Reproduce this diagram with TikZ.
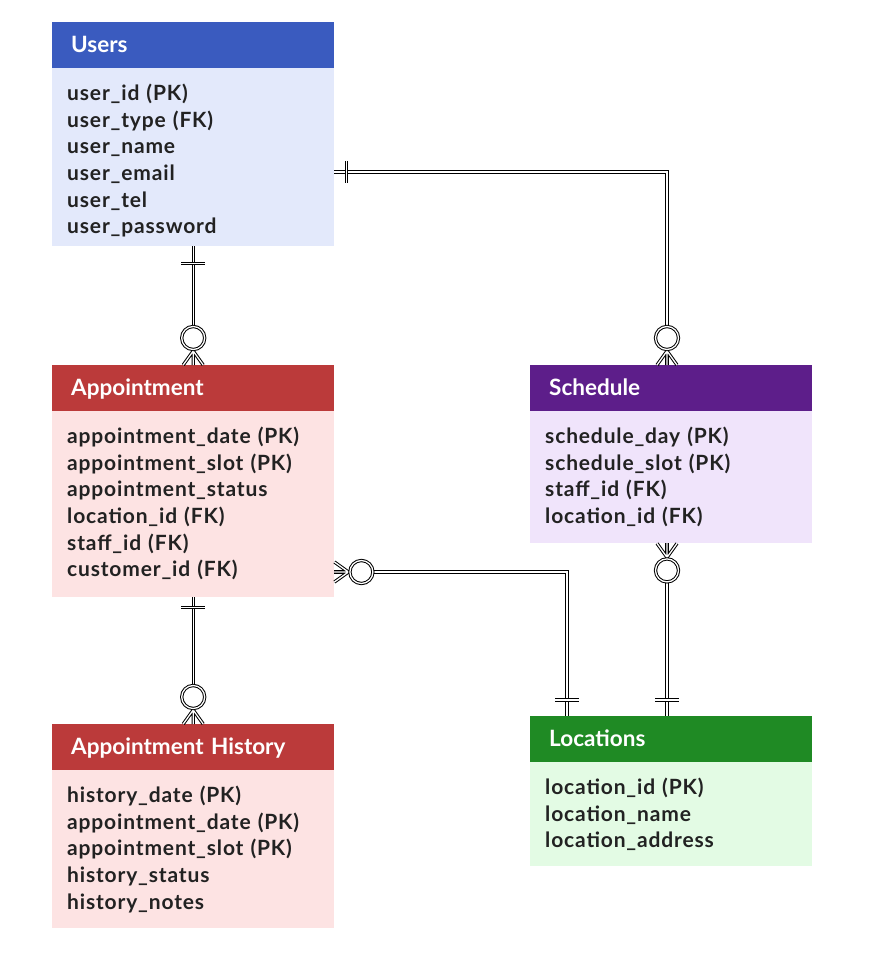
\documentclass[tikz,border=0pt]{standalone}
\usepackage{fontspec}
\setmainfont{Lato}
\newfontfamily\rowfont[LetterSpace=4]{Lato}
\usetikzlibrary{calc}
\definecolor{uH}{HTML}{3A5BBF}
\definecolor{uB}{HTML}{E3E9FB}
\definecolor{aH}{HTML}{BB3A3A}
\definecolor{aB}{HTML}{FDE3E3}
\definecolor{sH}{HTML}{5D1E8A}
\definecolor{sB}{HTML}{F0E4FB}
\definecolor{lH}{HTML}{1F8A24}
\definecolor{lB}{HTML}{E3FBE4}
\definecolor{txt}{HTML}{222222}
\newcommand\firstrow{\rule{0pt}{18pt}}
\begin{document}
\begin{tikzpicture}[x=1pt,y=-1pt,
  hdr/.style={anchor=north west, minimum width=282pt, minimum height=46pt,
    text width=244pt, inner xsep=19pt, inner ysep=0pt, align=left, text=white,
    text height=15pt, text depth=0pt,
    font=\fontsize{22.5}{26}\selectfont\bfseries},
  tbody/.style={anchor=north west, minimum width=282pt, inner sep=0pt},
  rows/.style={anchor=north west, text width=260pt, inner sep=0pt, align=left,
    text=txt, font=\rowfont\fontsize{21}{26.6}\selectfont\bfseries},
  rel/.style={draw=black, double=white, double distance=1.3pt, line width=1pt},
  manyend/.pic={
    \draw[rel] (-10,0) -- (0,-14) -- (10,0) (0,-14) -- (0,0);
    \draw[rel, fill=white] (0,-27) circle (11.5pt);
  }]
\useasboundingbox (0,0) rectangle (874,960);

% Users
\node[hdr, fill=uH] (usersH) at (52,22) {Users};
\node[tbody, fill=uB, minimum height=178pt] (usersB) at (52,68) {};
\node[rows] (usersT) at ($(usersB.north west)+(15,14.5)$)
  {\firstrow user\_id (PK)\\user\_type (FK)\\user\_name\\user\_email\\user\_tel\\user\_password};

% Appointment
\node[hdr, fill=aH] (appH) at (52,365) {Appointment};
\node[tbody, fill=aB, minimum height=186pt] (appB) at (52,411) {};
\node[rows] (appT) at ($(appB.north west)+(15,14.5)$)
  {\firstrow appointment\_date (PK)\\appointment\_slot (PK)\\appointment\_status\\location\_id (FK)\\staff\_id (FK)\\customer\_id (FK)};

% Appointment History
\node[hdr, fill=aH] (ahH) at (52,724) {Appointment History};
\node[tbody, fill=aB, minimum height=158pt] (ahB) at (52,770) {};
\node[rows] (ahT) at ($(ahB.north west)+(15,14.5)$)
  {\firstrow history\_date (PK)\\appointment\_date (PK)\\appointment\_slot (PK)\\history\_status\\history\_notes};

% Schedule
\node[hdr, fill=sH] (schH) at (530,365) {Schedule};
\node[tbody, fill=sB, minimum height=132pt] (schB) at (530,411) {};
\node[rows] (schT) at ($(schB.north west)+(15,14.5)$)
  {\firstrow schedule\_day (PK)\\schedule\_slot (PK)\\staff\_id (FK)\\location\_id (FK)};

% Locations
\node[hdr, fill=lH] (locH) at (530,716) {Locations};
\node[tbody, fill=lB, minimum height=104pt] (locB) at (530,762) {};
\node[rows] (locT) at ($(locB.north west)+(15,14.5)$)
  {\firstrow location\_id (PK)\\location\_name\\location\_address};

% connection points
\coordinate (uR) at ($(usersB.north east)+(0,104)$);
\coordinate (sTop) at ($(schH.north west)+(137,0)$);
\coordinate (aR) at ($(appB.north east)+(0,161)$);
\coordinate (lTopA) at ($(locH.north west)+(37,0)$);
\coordinate (lTopS) at ($(locH.north west)+(137,0)$);
\coordinate (sBot) at ($(schB.south west)+(137,0)$);

% connectors
\draw[rel] (usersB.south) -- (appH.north);
\draw[rel] (uR) -- (uR -| sTop) -- (sTop);
\draw[rel] (aR) -- (aR -| lTopA) -- (lTopA);
\draw[rel] (sBot) -- (lTopS);
\draw[rel] (appB.south) -- (ahH.north);

% one-markers
\draw[rel] ($(usersB.south)+(-12,17)$) -- ($(usersB.south)+(12,17)$);
\draw[rel] ($(uR)+(12,-11)$) -- ($(uR)+(12,11)$);
\draw[rel] ($(appB.south)+(-12,10)$) -- ($(appB.south)+(12,10)$);
\draw[rel] ($(lTopA)+(-12,-16)$) -- ($(lTopA)+(12,-16)$);
\draw[rel] ($(lTopS)+(-12,-16)$) -- ($(lTopS)+(12,-16)$);

% many-markers
\pic at (appH.north) {manyend};
\pic at (sTop) {manyend};
\pic[rotate=-90] at (aR) {manyend};
\pic[rotate=180] at (sBot) {manyend};
\pic at (ahH.north) {manyend};
\end{tikzpicture}
\end{document}
